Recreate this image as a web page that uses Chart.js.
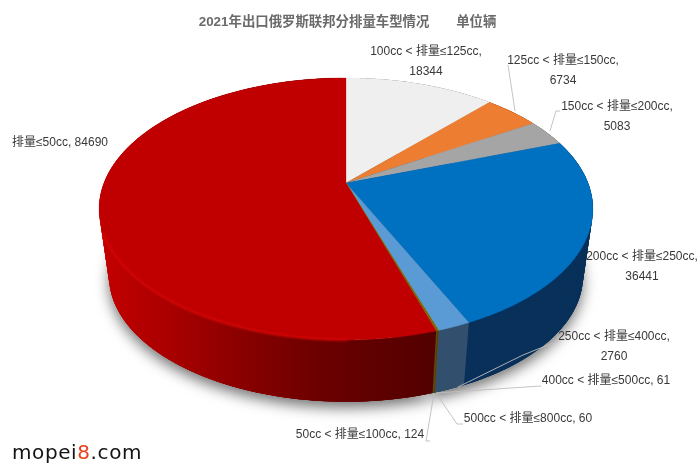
<!DOCTYPE html>
<html>
<head>
<meta charset="utf-8">
<style>html,body{margin:0;padding:0;background:#fff}canvas{display:block;filter:blur(0.35px)}</style>
<script src="https://cdn.jsdelivr.net/npm/chart.js@4"></script>
</head>
<body>
<canvas id="c" width="700" height="475"></canvas>
<script>
const categories = ['100cc < 排量≤125cc','125cc < 排量≤150cc','150cc < 排量≤200cc','200cc < 排量≤250cc','250cc < 排量≤400cc','400cc < 排量≤500cc','500cc < 排量≤800cc','50cc < 排量≤100cc','排量≤50cc'];
const values = [18344,6734,5083,36441,2760,61,60,124,84690];
const topColors = ['#EFEFEF','#ED7D31','#A5A5A5','#0070C0','#5B9BD5','#70AD47','#9E480E','#997300','#C00000'];
const wallColors = ['#8f8f8f','#8a4a1d','#636363','#08305a','#32506e','#5a4a12','#5a3a0c','#5a4a12','red'];
const titleText = '2021年出口俄罗斯联邦分排量车型情况　　单位辆';

// label layout (same order as categories): centre x, first line y, wrapped?
const labelX = [426,563,617,642,614,606,528,360,60];
const labelY = [52,61,107,257,337,381,419,435,143];
const labelWrap = [true,true,true,true,true,false,false,false,false];
const leaders = [
  [],
  [[508,65],[515,111]],
  [[560,111],[556,111],[550,131]],
  [],
  [[558,341],[523,355],[458,387]],
  [[541,386],[436,393]],
  [[463,424],[457,424],[436,393]],
  [[430,441],[426,441],[434,393]],
  []
];

// perspective of the pie disc
const view = {cx:346, cy:183, ax:242, by:125.9, p:0.198, drop:68, shrink:0.96};
function project(theta, level){
  const u = Math.sin(theta), v = Math.cos(theta), w = 1 + view.p*v;
  const s = level ? view.shrink : 1;
  return [view.cx + s*view.ax*u/w, view.cy + (level?view.drop:0) - s*view.by*v/w];
}
function rim(ctx, t1, t2, level, first){
  const n = Math.max(2, Math.ceil(Math.abs(t2-t1)/0.008));
  for(let i=0;i<=n;i++){
    const p = project(t1+(t2-t1)*i/n, level);
    if(i===0 && first) ctx.moveTo(p[0],p[1]); else ctx.lineTo(p[0],p[1]);
  }
}
// each strip overlaps the following one so that no seams show
function wall(ctx, t1, t2, paint){
  const n = Math.max(1, Math.ceil((t2-t1)/0.01));
  const step = (t2-t1)/n;
  ctx.fillStyle = paint;
  for(let i=0;i<n;i++){
    const a = t1+step*i, b = a+step*3;
    const p = [project(a,0),project(b,0),project(b,1),project(a,1)];
    ctx.beginPath(); p.forEach((q,k)=> k?ctx.lineTo(q[0],q[1]):ctx.moveTo(q[0],q[1])); ctx.closePath();
    ctx.fill();
  }
}
const pie3d = {
  id:'pie3d',
  beforeDatasetDraw(chart){
    const ctx = chart.ctx, arcs = chart.getDatasetMeta(0).data;
    const spans = arcs.map(a=>[a.startAngle+Math.PI/2, a.endAngle+Math.PI/2]);
    ctx.save();
    // soft shadow under the disc
    ctx.save();
    ctx.shadowColor='rgba(0,0,0,0.55)'; ctx.shadowBlur=14; ctx.shadowOffsetY=6;
    ctx.fillStyle='#8a0000';
    ctx.beginPath(); rim(ctx,Math.PI*0.9,Math.PI*1.6,1,true); ctx.closePath(); ctx.fill();
    ctx.fillStyle='#08305a';
    ctx.beginPath(); rim(ctx,0,Math.PI*0.9,1,true); ctx.lineTo(view.cx,view.cy+view.drop); ctx.closePath(); ctx.fill();
    ctx.restore();
    // walls
    const redWall = ctx.createLinearGradient(100,0,435,0);
    redWall.addColorStop(0,'#c40000'); redWall.addColorStop(0.2,'#aa0000');
    redWall.addColorStop(0.45,'#860000'); redWall.addColorStop(0.65,'#6c0000');
    redWall.addColorStop(1,'#520000');
    spans.forEach((s,i)=> wall(ctx, s[0], s[1], wallColors[i]==='red' ? redWall : wallColors[i]));
    // top faces
    spans.forEach((s,i)=>{
      ctx.fillStyle = topColors[i]; ctx.strokeStyle = topColors[i]; ctx.lineWidth=0.3;
      ctx.beginPath(); ctx.moveTo(view.cx,view.cy); rim(ctx,s[0],s[1],0,false); ctx.closePath(); ctx.fill(); ctx.stroke();
    });
    // soft bevel highlight on the red rim
    const red = spans[spans.length-1];
    ctx.save();
    ctx.filter='blur(1px)'; ctx.strokeStyle='#dc0808'; ctx.lineWidth=1.6;
    ctx.beginPath(); rim(ctx,red[0]+0.3,red[0]+1.5,0,true); ctx.stroke();
    ctx.restore();
    // leader lines
    ctx.strokeStyle='#bdbdbd'; ctx.lineWidth=0.9;
    leaders.forEach(pts=>{
      if(!pts.length) return;
      ctx.beginPath(); pts.forEach((p,i)=> i?ctx.lineTo(p[0],p[1]):ctx.moveTo(p[0],p[1])); ctx.stroke();
    });
    // labels
    ctx.font='12px "Liberation Sans","Noto Sans CJK SC",sans-serif';
    ctx.fillStyle='#383838'; ctx.textAlign='center'; ctx.textBaseline='middle';
    categories.forEach((c,i)=>{
      if(labelWrap[i]){
        ctx.fillText(c+',',labelX[i],labelY[i]);
        ctx.fillText(String(values[i]),labelX[i],labelY[i]+20);
      } else {
        ctx.fillText(c+', '+values[i],labelX[i],labelY[i]);
      }
    });
    // site mark
    ctx.textAlign='left'; ctx.textBaseline='alphabetic';
    ctx.font='20px "DejaVu Sans",sans-serif'; ctx.letterSpacing='0.6px';
    let x=12;
    [['mopei','#141414'],['8','#e8401c'],['.com','#141414']].forEach(t=>{
      ctx.fillStyle=t[1]; ctx.fillText(t[0],x,459); x+=ctx.measureText(t[0]).width;
    });
    ctx.restore();
    return false;
  }
};
new Chart(document.getElementById('c'),{
  type:'pie',
  data:{labels:categories,datasets:[{data:values,backgroundColor:topColors,borderWidth:0}]},
  plugins:[pie3d],
  options:{
    responsive:false,animation:false,devicePixelRatio:1,
    layout:{padding:{top:14,right:5,bottom:20,left:0}},
    plugins:{
      legend:{display:false},tooltip:{enabled:false},
      title:{display:true,text:titleText,color:'#6a6a6a',padding:{top:0,bottom:10},
        font:{family:'"Liberation Sans","Noto Sans CJK SC",sans-serif',size:13.4,weight:'bold'}}
    }
  }
});
</script>
</body>
</html>
